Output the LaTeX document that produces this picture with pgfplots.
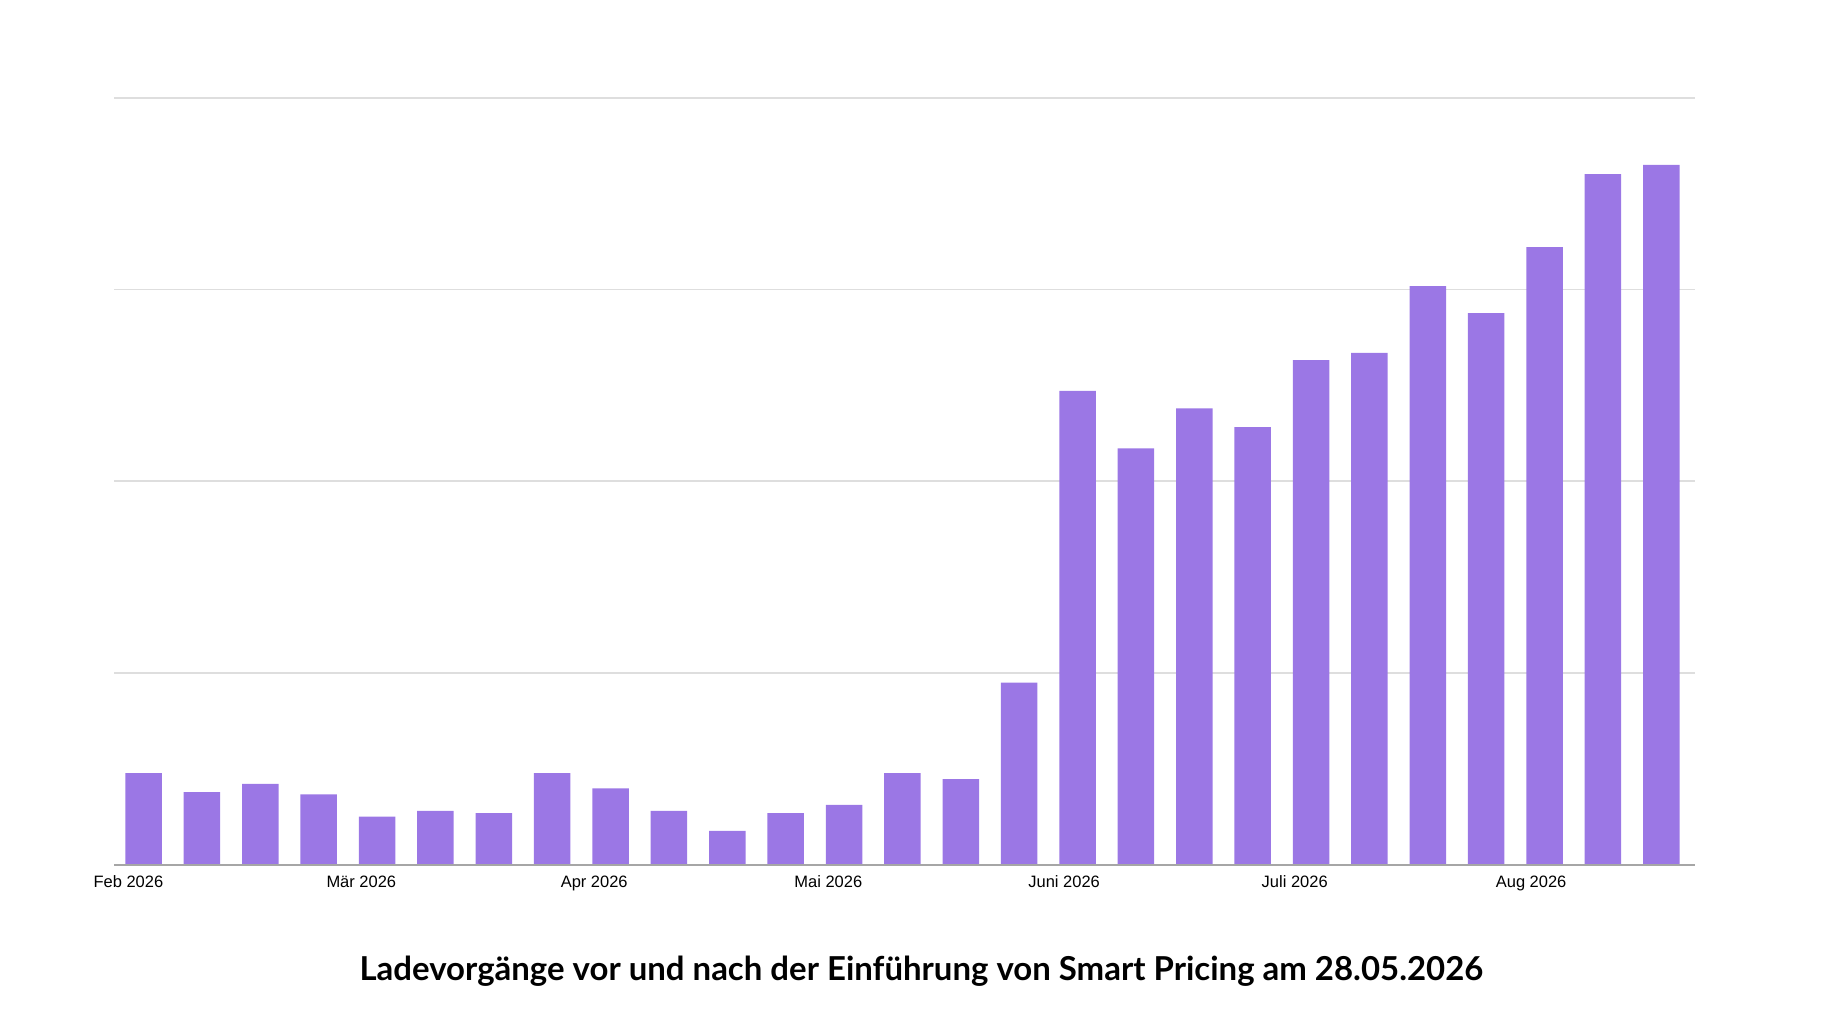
\documentclass[border=0pt]{standalone}
\usepackage{pgfplots}
\pgfplotsset{compat=1.18}
\usepackage{fontspec}
\setmainfont{Liberation Sans}
\newfontfamily\titlefont{Lato}
\definecolor{barc}{HTML}{9B77E5}
\begin{document}
\begin{tikzpicture}[x=1pt,y=1pt]
\path[use as bounding box] (0,0) rectangle (775,434);
\begin{axis}[at={(48.5pt,66.5pt)},anchor=south west,scale only axis,
 width=671.5pt,height=326pt,xmin=-0.504,xmax=26.57,ymin=0,ymax=4,
 axis line style={draw=none},ytick={1,2,3,4},yticklabels={},
 ymajorgrids,grid style={draw=black!13,line width=0.8pt},
 major tick length=0pt,
 xtick={-0.26,3.73,7.72,11.73,15.77,19.72,23.77},
 xticklabels={Feb 2026,Mär 2026,Apr 2026,Mai 2026,Juni 2026,Juli 2026,Aug 2026},
 xticklabel style={font=\fontsize{7}{8}\selectfont,yshift=-1pt},
 /pgf/number format/assume math mode=true,
 clip=false]
\addplot[ybar,bar width=15.5pt,fill=barc,draw=none] coordinates {
(0,0.479)(1,0.380)(2,0.423)(3,0.368)(4,0.252)(5,0.282)(6,0.270)(7,0.479)(8,0.399)
(9,0.282)(10,0.178)(11,0.270)(12,0.313)(13,0.479)(14,0.448)(15,0.951)(16,2.472)
(17,2.172)(18,2.380)(19,2.282)(20,2.632)(21,2.669)(22,3.018)(23,2.877)(24,3.221)
(25,3.601)(26,3.650)};
\draw[black!35,line width=1.2pt] (axis cs:-0.504,0) -- (axis cs:26.57,0);
\end{axis}
\node[font=\titlefont\bfseries\fontsize{14}{16}\selectfont] at (391.5,21.5) {Ladevorgänge vor und nach der Einführung von Smart Pricing am 28.05.2026};
\end{tikzpicture}
\end{document}
